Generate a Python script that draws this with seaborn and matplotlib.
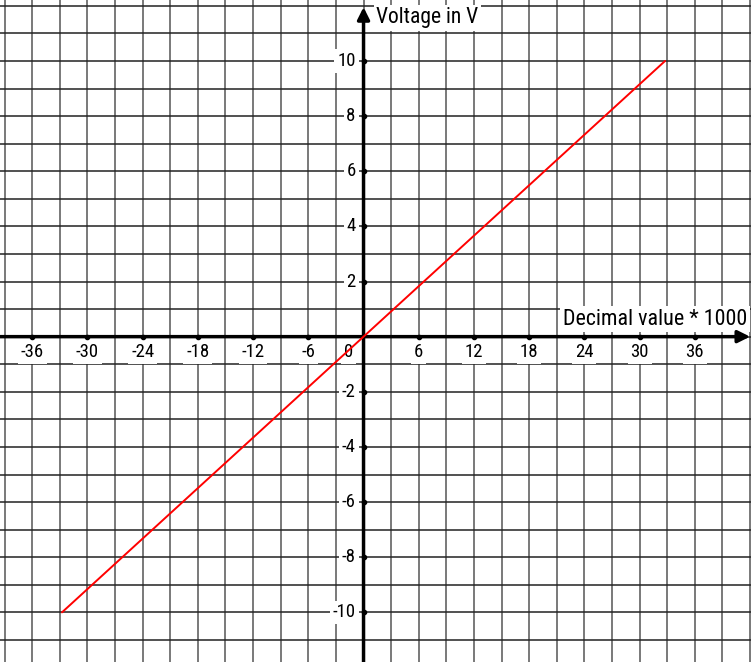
import numpy as np
import pandas as pd
import matplotlib
matplotlib.use("Agg")
import matplotlib.pyplot as plt
import seaborn as sns

# data: DAC transfer line, decimal value (in thousands) -> voltage
decimal_k = [-32.768, 32.767]
voltage = [-10.0, 10.0]

x_labels = [-36, -30, -24, -18, -12, -6, 6, 12, 18, 24, 30, 36]
y_labels = [-10, -8, -6, -4, -2, 2, 4, 6, 8, 10]

sns.set_style("white")
plt.rcParams["font.family"] = ["Roboto Condensed", "Open Sans", "DejaVu Sans"]
plt.rcParams["text.color"] = "black"

fig = plt.figure(figsize=(7.51, 6.62), dpi=100)
ax = fig.add_axes([0, 0, 1, 1])
ax.set_xlim(-39.5, 42.1)
ax.set_ylim(-11.8, 12.21)

# grid
ax.set_xticks(np.arange(-39, 43, 3))
ax.set_yticks(np.arange(-11, 13, 1))
ax.tick_params(length=0, labelbottom=False, labelleft=False)
ax.xaxis.grid(True, color="#6e6e6e", lw=1.3)
ax.yaxis.grid(True, color="#222222", lw=1.1)
ax.set_axisbelow(True)
for s in ax.spines.values():
    s.set_visible(False)

df = pd.DataFrame({"x": decimal_k, "y": voltage})
sns.lineplot(data=df, x="x", y="y", ax=ax, color="red", lw=1.4, zorder=6)

# axes through origin with arrows
ax.annotate("", xy=(42.0, 0), xytext=(-39.5, 0),
            arrowprops=dict(arrowstyle="-|>", color="black", lw=2.5,
                            mutation_scale=18, shrinkA=0, shrinkB=0), zorder=4)
ax.annotate("", xy=(0, 11.95), xytext=(0, -11.8),
            arrowprops=dict(arrowstyle="-|>", color="black", lw=2.5,
                            mutation_scale=18, shrinkA=0, shrinkB=0), zorder=4)

ax.plot(x_labels, [0] * len(x_labels), "o", color="black", ms=3, zorder=5)
ax.plot([0] * len(y_labels), y_labels, "o", color="black", ms=3, zorder=5)

box = dict(facecolor="white", edgecolor="none", pad=2)
for v in x_labels:
    ax.text(v, -0.22, str(v), ha="center", va="top", fontsize=13.5, bbox=box, zorder=3)
ax.text(-1.6, -0.22, "0", ha="center", va="top", fontsize=13.5, bbox=box, zorder=3)
for v in y_labels:
    ax.text(-0.85, v, str(v), ha="right", va="center", fontsize=13.5, bbox=box, zorder=3)

ax.text(1.4, 11.56, "Voltage in V", ha="left", va="center", fontsize=15.5, bbox=box, zorder=3)
ax.text(41.7, 0.64, "Decimal value * 1000", ha="right", va="center", fontsize=15.8,
        bbox=box, zorder=3)

fig.savefig("out.png", dpi=100)
